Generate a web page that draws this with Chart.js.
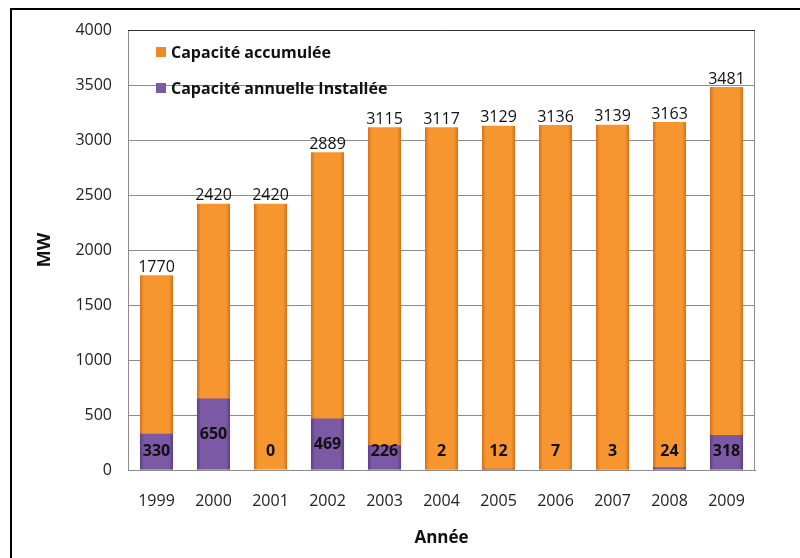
<!DOCTYPE html>
<html>
<head>
<meta charset="utf-8">
<script src="https://cdn.jsdelivr.net/npm/chart.js@4.4.1/dist/chart.umd.min.js"></script>
<style>
  html, body { margin: 0; padding: 0; background: #fff; }
  #wrap { width: 800px; height: 558px; position: relative; }
</style>
</head>
<body>
<div id="wrap"><canvas id="chart" width="800" height="558"></canvas></div>
<script>
const years = ['1999', '2000', '2001', '2002', '2003', '2004', '2005', '2006', '2007', '2008', '2009'];
const cumulative = [1770, 2420, 2420, 2889, 3115, 3117, 3129, 3136, 3139, 3163, 3481];
const annual = [330, 650, 0, 469, 226, 2, 12, 7, 3, 24, 318];
const yMax = 4000;
const yStep = 500;

const FONT = '"Open Sans", sans-serif';
const BAR_PCT = 0.58;

// horizontal shading so the bars look a bit like the excel bevel
function barFill(ctx, dark, light) {
  const chart = ctx.chart;
  const x = chart.scales.x;
  if (!x || !x.width || ctx.type !== 'data') return light;
  const cx = x.getPixelForValue(ctx.dataIndex);
  const half = x.width / years.length * BAR_PCT / 2;
  const g = chart.ctx.createLinearGradient(cx - half, 0, cx + half, 0);
  g.addColorStop(0, dark);
  g.addColorStop(0.12, light);
  g.addColorStop(0.88, light);
  g.addColorStop(1, dark);
  return g;
}

const framePlugin = {
  id: 'frame',
  beforeDraw(chart) {
    const c = chart.ctx;
    c.save();
    c.fillStyle = '#fff';
    c.fillRect(0, 0, chart.width, chart.height);
    c.strokeStyle = '#000';
    c.lineWidth = 2;
    c.beginPath();
    c.moveTo(11, chart.height);
    c.lineTo(11, 9);
    c.lineTo(chart.width, 9);
    c.stroke();
    c.restore();
  },
  beforeDatasetsDraw(chart) {
    const a = chart.chartArea;
    const c = chart.ctx;
    c.save();
    c.lineWidth = 1;
    c.strokeStyle = '#8c8c8c';
    c.beginPath();
    c.moveTo(a.right - 0.5, a.top);
    c.lineTo(a.right - 0.5, a.bottom);
    c.stroke();
    c.strokeStyle = '#303030';
    c.beginPath();
    c.moveTo(a.left, a.top + 0.5);
    c.lineTo(a.right, a.top + 0.5);
    c.stroke();
    c.restore();
  }
};

const labelPlugin = {
  id: 'barLabels',
  afterDatasetsDraw(chart) {
    const c = chart.ctx;
    const annMeta = chart.getDatasetMeta(0);
    const cumMeta = chart.getDatasetMeta(1);
    c.save();
    c.textAlign = 'center';
    c.fillStyle = '#111';
    c.font = '16px ' + FONT;
    c.textBaseline = 'bottom';
    cumMeta.data.forEach((bar, i) => c.fillText(String(cumulative[i]), bar.x, bar.y));
    c.font = 'bold 16px ' + FONT;
    c.textBaseline = 'middle';
    annMeta.data.forEach((bar, i) => {
      const y = Math.min((bar.y + bar.base) / 2, chart.chartArea.bottom - 19);
      c.fillText(String(annual[i]), bar.x, y);
    });
    c.restore();
  },
  afterDraw(chart) {
    // legend sits inside the plot, top left
    const c = chart.ctx;
    const items = [
      { text: 'Capacité accumulée', color: '#ee8a26' },
      { text: 'Capacité annuelle Installée', color: '#7b59a5' }
    ];
    c.save();
    c.font = 'bold 16px ' + FONT;
    c.textBaseline = 'middle';
    c.textAlign = 'left';
    items.forEach((it, i) => {
      const y = 52 + i * 36;
      c.fillStyle = it.color;
      c.fillRect(156, y - 5, 10, 10);
      c.fillStyle = '#111';
      c.fillText(it.text, 171, y + 1);
    });
    c.restore();
  }
};

new Chart(document.getElementById('chart'), {
  type: 'bar',
  data: {
    labels: years,
    datasets: [
      {
        label: 'Capacité annuelle Installée',
        data: annual,
        grouped: false,
        barPercentage: BAR_PCT,
        categoryPercentage: 1,
        backgroundColor: ctx => barFill(ctx, '#5c3f84', '#7b59a5'),
        borderWidth: 0
      },
      {
        label: 'Capacité accumulée',
        data: cumulative,
        grouped: false,
        barPercentage: BAR_PCT,
        categoryPercentage: 1,
        backgroundColor: ctx => barFill(ctx, '#d4711a', '#f7952f'),
        borderWidth: 0
      }
    ]
  },
  options: {
    responsive: false,
    animation: false,
    layout: { padding: { top: 30, right: 45, left: 30, bottom: 0 } },
    plugins: {
      legend: { display: false },
      tooltip: { enabled: false }
    },
    scales: {
      x: {
        afterFit(scale) { scale.height = 88; },
        grid: { display: false, drawTicks: false },
        border: { color: '#8c8c8c' },
        ticks: { color: '#222', font: { family: FONT, size: 16 }, padding: 22, maxRotation: 0 },
        title: {
          display: true, text: 'Année', color: '#111',
          font: { family: FONT, size: 17, weight: 'bold' },
          padding: { top: 0, bottom: 10 }
        }
      },
      y: {
        min: 0,
        max: yMax,
        afterFit(scale) { scale.width = 98; },
        grid: { color: '#8c8c8c', drawTicks: false },
        border: { color: '#8c8c8c' },
        ticks: {
          stepSize: yStep, color: '#222', font: { family: FONT, size: 16 }, padding: 16,
          callback: v => String(v)
        },
        title: {
          display: true, text: 'MW', color: '#111',
          font: { family: FONT, size: 18, weight: 'bold' },
          padding: { top: 4, bottom: 0 }
        }
      }
    }
  },
  plugins: [framePlugin, labelPlugin]
});
</script>
</body>
</html>
